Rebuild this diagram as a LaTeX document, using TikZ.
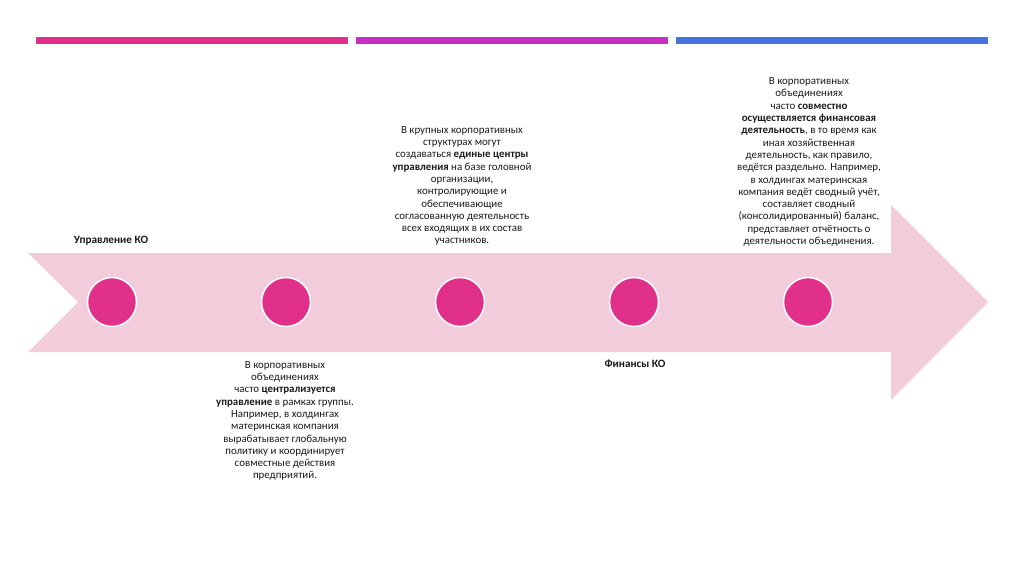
\documentclass[tikz,border=0pt]{standalone}
\usepackage{fontspec}
\setmainfont{Carlito}
\definecolor{barpink}{HTML}{E02F8A}
\definecolor{barpurple}{HTML}{C62EC6}
\definecolor{barblue}{HTML}{4574E0}
\definecolor{arrowpink}{HTML}{F2CCDB}
\definecolor{dotpink}{HTML}{E0308A}
\definecolor{txt}{HTML}{1A1A1A}
\begin{document}
\begin{tikzpicture}[x=1pt,y=-1pt,
  bar/.style={inner sep=0, minimum height=7pt, minimum width=312pt},
  dot/.style={circle, fill=dotpink, draw=white, line width=1.5pt, minimum size=49pt, inner sep=0},
  para/.style={align=center, inner sep=0, text=txt, font=\fontsize{10.9}{12.3}\selectfont},
  lbl/.style={inner sep=0, text=txt, font=\fontsize{11.2}{12}\selectfont\bfseries}]
\useasboundingbox[fill=white] (0,0) rectangle (1024,574);
% top bars
\node[bar, fill=barpink] (b1) at (192,40) {};
\node[bar, fill=barpurple] (b2) at (512,40) {};
\node[bar, fill=barblue] (b3) at (832,40) {};
% arrow
\fill[arrowpink] (28,253) -- (891,253) -- (891,205) -- (988,302) -- (891,400) -- (891,352) -- (28,352) -- (78,302) -- cycle;
% dots
\node[dot] (c1) at (112,302) {};
\node[dot] (c2) at (286,302) {};
\node[dot] (c3) at (460,302) {};
\node[dot] (c4) at (634,302) {};
\node[dot] (c5) at (808,302) {};
% labels
\node[lbl] (l1) at (111,241) {Управление КО};
\node[lbl] (l2) at (635,364) {Финансы КО};
% texts
\node[para] (t1) at (462,186) {В крупных корпоративных\\структурах могут\\создаваться \textbf{единые центры}\\\textbf{управления} на базе головной\\организации,\\контролирующие и\\обеспечивающие\\согласованную деятельность\\всех входящих в их состав\\участников.};
\node[para] (t2) at (285,421) {В корпоративных\\объединениях\\часто \textbf{централизуется}\\\textbf{управление} в рамках группы.\\Например, в холдингах\\материнская компания\\вырабатывает глобальную\\политику и координирует\\совместные действия\\предприятий.};
\node[para] (t3) at (809,162) {В корпоративных\\объединениях\\часто \textbf{совместно}\\\textbf{осуществляется финансовая}\\\textbf{деятельность}, в то время как\\иная хозяйственная\\деятельность, как правило,\\ведётся раздельно. Например,\\в холдингах материнская\\компания ведёт сводный учёт,\\составляет сводный\\(консолидированный) баланс,\\представляет отчётность о\\деятельности объединения.};
\end{tikzpicture}
\end{document}
